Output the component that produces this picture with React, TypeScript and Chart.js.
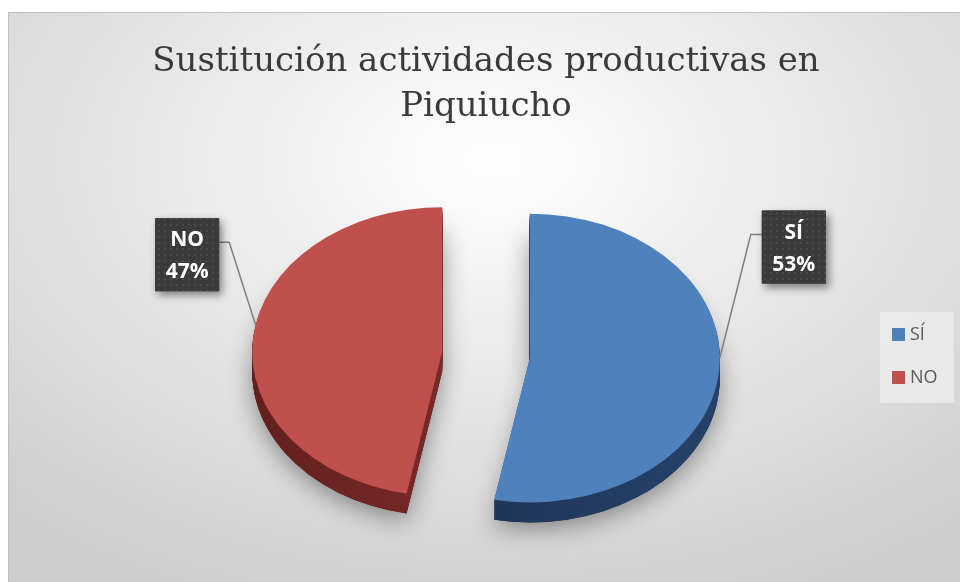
import { useEffect, useRef } from 'react';
import { Chart, registerables } from 'chart.js';

Chart.register(...registerables);

// ---- data ----
const categories = ['SÍ', 'NO'];
const values = [53, 47];
const percentLabels = ['53%', '47%'];
const titleLines = ['Sustitución actividades productivas en', 'Piquiucho'];

// ---- styles ----
const TOP_COLORS = ['#4f81bd', '#c0504d'];
const SIDE_COLORS = [
  ['#1b2f4d', '#26416a'],
  ['#62201e', '#8e3331'],
];
const EXPLODE = 44;
const TILT = 0.76;
const DEPTH = 20;
const RADIUS = 190;
// per-slice label placement relative to the (exploded) slice centre
const LABEL_STYLE = [
  { boxDx: 264, boxDy: -111, anchorDeg: 0, side: 'left' },
  { boxDx: -255, boxDy: -97, anchorDeg: 190.8, side: 'right' },
];
const BOX_W = 64;
const BOX_H = 73;

function makeDotPattern(ctx: CanvasRenderingContext2D) {
  const c = document.createElement('canvas');
  c.width = 6;
  c.height = 6;
  const p = c.getContext('2d')!;
  p.fillStyle = '#3a3a3a';
  p.fillRect(0, 0, 6, 6);
  p.fillStyle = '#4a4a4a';
  p.fillRect(2, 2, 2, 2);
  return ctx.createPattern(c, 'repeat');
}

const pie3d = {
  id: 'pie3d',
  beforeDatasetsDraw(chart: any) {
    const ctx: CanvasRenderingContext2D = chart.ctx;
    const arcs = chart.getDatasetMeta(0).data as any[];
    if (!arcs.length) return false;
    const cx = arcs[0].x;
    const cy = arcs[0].y;
    const shiftOf = (a: any) => {
      const h = (a.startAngle + a.endAngle) / 2;
      return { dx: Math.cos(h) * EXPLODE, dy: Math.sin(h) * EXPLODE };
    };
    const tilt = (extraY: number) => {
      ctx.translate(0, extraY);
      ctx.translate(cx, cy);
      ctx.scale(1, TILT);
      ctx.translate(-cx, -cy);
    };
    const path = (a: any, s: { dx: number; dy: number }) => {
      ctx.beginPath();
      ctx.moveTo(a.x + s.dx, a.y + s.dy);
      ctx.arc(a.x + s.dx, a.y + s.dy, a.outerRadius, a.startAngle, a.endAngle);
      ctx.closePath();
    };
    // soft shadow
    arcs.forEach((a, i) => {
      const s = shiftOf(a);
      ctx.save();
      tilt(DEPTH);
      ctx.shadowColor = 'rgba(0,0,0,0.4)';
      ctx.shadowBlur = 24;
      ctx.shadowOffsetY = 6;
      ctx.fillStyle = SIDE_COLORS[i][0];
      path(a, s);
      ctx.fill();
      ctx.restore();
    });
    // extruded sides
    for (let d = DEPTH; d >= 1; d--) {
      arcs.forEach((a, i) => {
        const s = shiftOf(a);
        ctx.save();
        tilt(d);
        const g = ctx.createLinearGradient(a.x + s.dx - a.outerRadius, 0, a.x + s.dx + a.outerRadius, 0);
        g.addColorStop(0, SIDE_COLORS[i][0]);
        g.addColorStop(1, SIDE_COLORS[i][1]);
        ctx.fillStyle = g;
        path(a, s);
        ctx.fill();
        ctx.restore();
      });
    }
    // top faces drawn by the arc elements themselves
    arcs.forEach((a) => {
      const s = shiftOf(a);
      ctx.save();
      tilt(0);
      ctx.translate(s.dx, s.dy);
      a.draw(ctx);
      ctx.restore();
    });
    return false;
  },
  afterDraw(chart: any) {
    const ctx: CanvasRenderingContext2D = chart.ctx;
    const arcs = chart.getDatasetMeta(0).data as any[];
    if (!arcs.length) return;
    const cy = arcs[0].y;
    const pattern = makeDotPattern(ctx);
    arcs.forEach((a, i) => {
      const h = (a.startAngle + a.endAngle) / 2;
      const scx = a.x + Math.cos(h) * EXPLODE;
      const scy = cy + Math.sin(h) * EXPLODE * TILT;
      const st = LABEL_STYLE[i];
      const ang = (st.anchorDeg * Math.PI) / 180;
      const ax = scx + Math.cos(ang) * a.outerRadius;
      const ay = scy + Math.sin(ang) * a.outerRadius * TILT;
      const bx = scx + st.boxDx - BOX_W / 2;
      const by = scy + st.boxDy - BOX_H / 2;
      const ly = by + 24;
      const edgeX = st.side === 'left' ? bx : bx + BOX_W;
      const elbowX = st.side === 'left' ? edgeX - 11 : edgeX + 10;
      // leader line
      ctx.save();
      ctx.strokeStyle = '#7f7f7f';
      ctx.lineWidth = 1.5;
      ctx.beginPath();
      ctx.moveTo(edgeX, ly);
      ctx.lineTo(elbowX, ly);
      ctx.lineTo(ax, ay);
      ctx.stroke();
      ctx.restore();
      // box with shadow
      ctx.save();
      ctx.shadowColor = 'rgba(0,0,0,0.45)';
      ctx.shadowBlur = 8;
      ctx.shadowOffsetX = 3;
      ctx.shadowOffsetY = 4;
      ctx.fillStyle = '#3a3a3a';
      ctx.fillRect(bx, by, BOX_W, BOX_H);
      ctx.restore();
      ctx.save();
      ctx.fillStyle = pattern || '#3a3a3a';
      ctx.fillRect(bx, by, BOX_W, BOX_H);
      ctx.fillStyle = '#ffffff';
      ctx.font = 'bold 21px "Open Sans", sans-serif';
      ctx.textAlign = 'center';
      ctx.textBaseline = 'middle';
      ctx.fillText(String(chart.data.labels[i]), bx + BOX_W / 2, by + 22);
      ctx.fillText(percentLabels[i], bx + BOX_W / 2, by + 54);
      ctx.restore();
    });
    // legend
    const lx = 880;
    const lyTop = 312;
    ctx.save();
    ctx.fillStyle = 'rgba(236,236,236,0.8)';
    ctx.fillRect(lx, lyTop, 74, 91);
    ctx.font = '18px "Open Sans", sans-serif';
    ctx.textBaseline = 'middle';
    ctx.textAlign = 'left';
    (chart.data.labels as string[]).forEach((lab, i) => {
      const y = lyTop + 16 + i * 43;
      ctx.fillStyle = TOP_COLORS[i];
      ctx.fillRect(lx + 12, y, 13, 13);
      ctx.fillStyle = '#595959';
      ctx.fillText(lab, lx + 30, y + 7);
    });
    ctx.restore();
  },
};

export default function App() {
  const canvasRef = useRef<HTMLCanvasElement | null>(null);

  useEffect(() => {
    const canvas = canvasRef.current;
    if (!canvas) return;
    const chart = new Chart(canvas, {
      type: 'pie',
      data: {
        labels: categories,
        datasets: [
          {
            data: values,
            backgroundColor: TOP_COLORS,
            borderWidth: 0,
          },
        ],
      },
      options: {
        animation: false,
        responsive: false,
        radius: RADIUS,
        rotation: 0,
        layout: { padding: { left: 12, right: 0, top: 0, bottom: 2 } },
        plugins: {
          legend: { display: false },
          tooltip: { enabled: false },
          title: {
            display: true,
            text: titleLines,
            color: '#3a3a3a',
            font: { family: '"DejaVu Serif", serif', size: 34, weight: 'normal', lineHeight: 1.32 },
            padding: { top: 40, bottom: 0 },
          },
        },
      } as any,
      plugins: [pie3d as any],
    });
    return () => chart.destroy();
  }, []);

  return (
    <div style={{ position: 'fixed', left: 0, top: 0, width: 960, height: 582, background: '#ffffff', overflow: 'hidden' }}>
      <div
        style={{
          position: 'absolute',
          left: 8,
          top: 12,
          width: 970,
          height: 590,
          border: '1px solid #c0c0c0',
          background: 'radial-gradient(ellipse 75% 80% at 50% 25%, #ffffff 0%, #f0f0f0 30%, #dcdcdc 70%, #cdcdcd 100%)',
        }}
      />
      <canvas ref={canvasRef} width={960} height={582} style={{ position: 'absolute', left: 0, top: 0, width: 960, height: 582 }} />
    </div>
  );
}
